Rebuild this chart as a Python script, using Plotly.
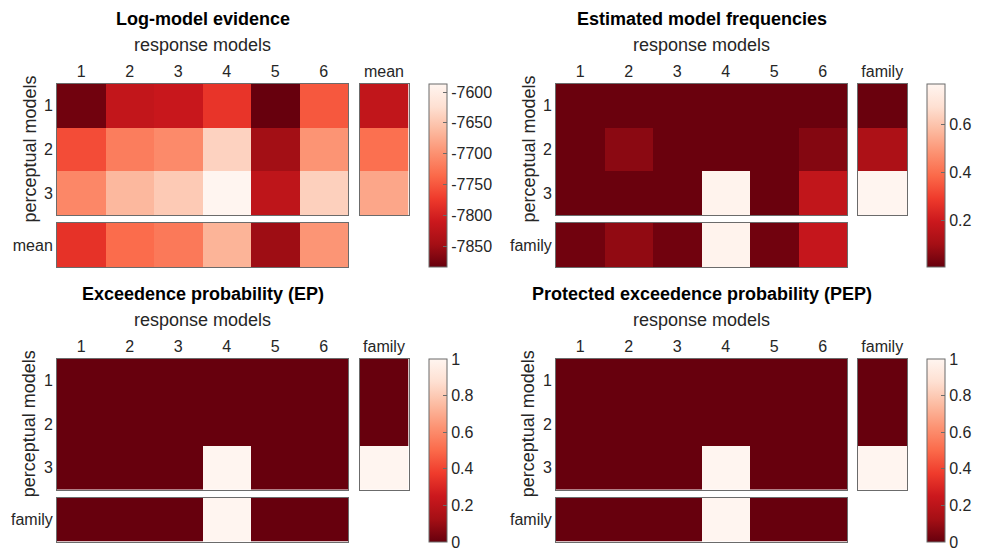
import plotly.graph_objects as go

# ---------------- data ----------------
response_models = [1, 2, 3, 4, 5, 6]
perceptual_models = [1, 2, 3]

# Log-model evidence
lme = [
    [-7878, -7819, -7813, -7780, -7884, -7750],
    [-7759, -7718, -7706, -7638, -7848, -7697],
    [-7709, -7664, -7646, -7587, -7822, -7640],
]
lme_row_mean = [-7820, -7730, -7680]
lme_col_mean = [-7782, -7734, -7722, -7668, -7851, -7696]
lme_range = [-7884, -7587]
lme_ticks = [-7600, -7650, -7700, -7750, -7800, -7850]

# Estimated model frequencies
freq = [
    [0.01, 0.01, 0.01, 0.01, 0.01, 0.01],
    [0.01, 0.06, 0.01, 0.01, 0.01, 0.05],
    [0.01, 0.01, 0.01, 0.76, 0.01, 0.17],
]
freq_family_rows = [0.01, 0.12, 0.77]
freq_family_cols = [0.02, 0.07, 0.02, 0.76, 0.02, 0.18]
freq_range = [0.005, 0.77]
freq_ticks = [0.2, 0.4, 0.6]

# Exceedence probability
ep = [
    [0, 0, 0, 0, 0, 0],
    [0, 0, 0, 0, 0, 0],
    [0, 0, 0, 1, 0, 0],
]
ep_family_rows = [0, 0, 1]
ep_family_cols = [0, 0, 0, 1, 0, 0]

# Protected exceedence probability
pep = [
    [0, 0, 0, 0, 0, 0],
    [0, 0, 0, 0, 0, 0],
    [0, 0, 0, 1, 0, 0],
]
pep_family_rows = [0, 0, 1]
pep_family_cols = [0, 0, 0, 1, 0, 0]
prob_range = [0, 1]
prob_ticks = [0, 0.2, 0.4, 0.6, 0.8, 1]

titles = ["Log-model evidence", "Estimated model frequencies",
          "Exceedence probability (EP)", "Protected exceedence probability (PEP)"]
side_labels = ["mean", "family", "family", "family"]

# ---------------- style ----------------
W, H = 982, 555
FONT = "Liberation Sans, Arial, Helvetica, sans-serif"
EDGE = "#6b6b6b"
reds_r = [
    [0.0, "#67000d"], [0.125, "#a50f15"], [0.25, "#cb181d"], [0.375, "#ef3b2c"],
    [0.5, "#fb6a4a"], [0.625, "#fc9272"], [0.75, "#fcbba1"], [0.875, "#fee0d2"],
    [1.0, "#fff5f0"],
]

def px_x(p):
    return p / W

def px_y(p):
    return 1 - p / H

cols_geo = [
    dict(main=(57, 348), side=(359.5, 408.5), cbar=(429, 447)),
    dict(main=(556, 847), side=(857.5, 907), cbar=(927, 945)),
]
rows_geo = [
    dict(main=(84, 215), bot=(223, 267)),
    dict(main=(359, 489.5), bot=(497.5, 541.5)),
]

panels = [
    (lme, lme_row_mean, lme_col_mean, lme_range, lme_ticks),
    (freq, freq_family_rows, freq_family_cols, freq_range, freq_ticks),
    (ep, ep_family_rows, ep_family_cols, prob_range, prob_ticks),
    (pep, pep_family_rows, pep_family_cols, prob_range, prob_ticks),
]

fig = go.Figure()
layout = dict(
    width=W, height=H, margin=dict(l=0, r=0, t=0, b=0, autoexpand=False),
    paper_bgcolor="white", plot_bgcolor="white",
    font=dict(family=FONT, size=16, color="#262626"),
    showlegend=False,
)
annotations = []

def fmt(v):
    return "%g" % v

axis_n = 0
for p, (main_z, side_z, bot_z, zr, zt) in enumerate(panels):
    cg = cols_geo[p % 2]
    rg = rows_geo[p // 2]
    ca = "coloraxis" if p == 0 else "coloraxis%d" % (p + 1)
    layout[ca] = dict(
        colorscale=reds_r, cmin=zr[0], cmax=zr[1],
        colorbar=dict(
            x=px_x(cg["cbar"][0]), xanchor="left", xpad=0, ypad=0,
            y=px_y(rg["main"][0]), yanchor="top",
            len=rg["bot"][1] - rg["main"][0], lenmode="pixels",
            thickness=cg["cbar"][1] - cg["cbar"][0], thicknessmode="pixels",
            outlinewidth=1, outlinecolor=EDGE, borderwidth=0,
            ticks="inside", ticklen=4, tickcolor=EDGE,
            tickvals=zt, ticktext=[fmt(v) for v in zt],
            tickfont=dict(size=16, color="#262626", family=FONT),
        ),
    )

    specs = [
        (main_z, response_models, perceptual_models, cg["main"], rg["main"],
         (response_models, [str(v) for v in response_models]),
         (perceptual_models, [str(v) for v in perceptual_models])),
        ([[v] for v in side_z], [1], perceptual_models, cg["side"], rg["main"],
         ([1], [side_labels[p]]), None),
        ([bot_z], response_models, [1], cg["main"], rg["bot"],
         None, ([1], [side_labels[p]])),
    ]
    for (z, xs, ys, xd, yd, xt, yt) in specs:
        axis_n += 1
        xa = "xaxis" if axis_n == 1 else "xaxis%d" % axis_n
        ya = "yaxis" if axis_n == 1 else "yaxis%d" % axis_n
        xr = "x" if axis_n == 1 else "x%d" % axis_n
        yr = "y" if axis_n == 1 else "y%d" % axis_n
        fig.add_trace(go.Heatmap(z=z, x=xs, y=ys, coloraxis=ca, xaxis=xr, yaxis=yr,
                                 xgap=0, ygap=0, hoverinfo="skip"))
        layout[xa] = dict(
            domain=[px_x(xd[0]), px_x(xd[1])], anchor=yr,
            range=[min(xs) - 0.5, max(xs) + 0.5], side="top",
            showgrid=False, zeroline=False, showline=True, mirror=True,
            linecolor=EDGE, linewidth=1, ticks="", automargin=False,
            tickvals=xt[0] if xt else [], ticktext=xt[1] if xt else [],
            showticklabels=bool(xt), tickfont=dict(size=16), fixedrange=True,
        )
        layout[ya] = dict(
            domain=[px_y(yd[1]), px_y(yd[0])], anchor=xr,
            range=[max(ys) + 0.5, min(ys) - 0.5],
            showgrid=False, zeroline=False, showline=True, mirror=True,
            linecolor=EDGE, linewidth=1, ticks="", automargin=False,
            tickvals=yt[0] if yt else [], ticktext=yt[1] if yt else [],
            showticklabels=bool(yt), tickfont=dict(size=16), fixedrange=True,
        )

    mx = (cg["main"][0] + cg["main"][1]) / 2
    my = (rg["main"][0] + rg["main"][1]) / 2
    top = rg["main"][0]
    annotations.append(dict(text="<b>%s</b>" % titles[p], x=px_x(mx), y=px_y(top - 65),
                            xref="paper", yref="paper", showarrow=False,
                            xanchor="center", yanchor="middle",
                            font=dict(size=18, color="#000000")))
    annotations.append(dict(text="response models", x=px_x(mx), y=px_y(top - 39),
                            xref="paper", yref="paper", showarrow=False,
                            xanchor="center", yanchor="middle",
                            font=dict(size=18, color="#262626")))
    annotations.append(dict(text="perceptual models", x=px_x(cg["main"][0] - 28), y=px_y(my),
                            xref="paper", yref="paper", showarrow=False, textangle=-90,
                            xanchor="center", yanchor="middle",
                            font=dict(size=18, color="#262626")))

layout["annotations"] = annotations
fig.update_layout(**layout)
fig.write_html(
    "out.html",
    config={"displayModeBar": False},
    post_script="document.body.style.margin='0px';document.body.style.overflow='hidden';",
)
